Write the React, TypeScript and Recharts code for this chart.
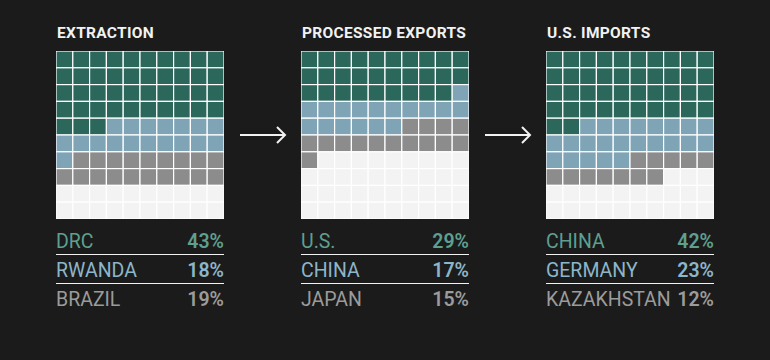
import React from "react";
import { ScatterChart, Scatter, XAxis, YAxis } from "recharts";

const titles = ["EXTRACTION", "PROCESSED EXPORTS", "U.S. IMPORTS"];
const extractionNames = ["DRC", "RWANDA", "BRAZIL"];
const extractionShares = [43, 18, 19];
const exportNames = ["U.S.", "CHINA", "JAPAN"];
const exportShares = [29, 17, 15];
const importNames = ["CHINA", "GERMANY", "KAZAKHSTAN"];
const importShares = [42, 23, 12];

const cellColors = ["#2c675b", "#7ea4b6", "#8c8c8c"];
const textColors = ["#5e9f90", "#8cb6c9", "#9b9b9b"];
const emptyColor = "#f3f3f3";

const SIZE = 168;
const CELL = SIZE / 10;

type Cell = { x: number; y: number; fill: string };

function buildCells(shares: number[]): Cell[] {
  const fills: string[] = [];
  shares.forEach((n, i) => {
    for (let k = 0; k < n; k++) fills.push(cellColors[i]);
  });
  const cells: Cell[] = [];
  for (let i = 0; i < 100; i++) {
    cells.push({
      x: (i % 10) + 0.5,
      y: Math.floor(i / 10) + 0.5,
      fill: fills[i] ?? emptyColor,
    });
  }
  return cells;
}

const Square = (props: any) => {
  const { cx, cy, payload } = props;
  return (
    <rect
      x={cx - CELL / 2}
      y={cy - CELL / 2}
      width={CELL}
      height={CELL}
      fill={payload.fill}
      stroke="#ffffff"
      strokeWidth={1.2}
    />
  );
};

const font = "Roboto, 'Noto Sans', sans-serif";

function Panel({ left, title, names, shares }: { left: number; title: string; names: string[]; shares: number[] }) {
  return (
    <div style={{ position: "absolute", left, top: 0, width: SIZE }}>
      <div
        style={{
          position: "absolute",
          top: 24,
          left: 1,
          fontFamily: font,
          fontWeight: 700,
          fontSize: 15.5,
          color: "#f2f2f2",
          whiteSpace: "nowrap",
          letterSpacing: 0.3,
        }}
      >
        {title}
      </div>
      <div style={{ position: "absolute", top: 51, left: 0 }}>
        <ScatterChart width={SIZE} height={SIZE} margin={{ top: 0, right: 0, bottom: 0, left: 0 }}>
          <XAxis type="number" dataKey="x" domain={[0, 10]} hide />
          <YAxis type="number" dataKey="y" domain={[0, 10]} reversed hide />
          <Scatter data={buildCells(shares)} shape={Square} isAnimationActive={false} />
        </ScatterChart>
      </div>
      {names.map((name, i) => (
        <div
          key={name}
          style={{
            position: "absolute",
            top: 228 + i * 29,
            left: 0,
            width: SIZE,
            height: 26,
            display: "flex",
            justifyContent: "space-between",
            alignItems: "center",
            fontFamily: font,
            fontSize: 19.5,
            color: textColors[i],
            borderBottom: i < 2 ? "1.5px solid #f2f2f2" : "none",
          }}
        >
          <span>{name}</span>
          <span style={{ fontWeight: 600 }}>{shares[i]}%</span>
        </div>
      ))}
    </div>
  );
}

function Arrow({ left }: { left: number }) {
  return (
    <svg style={{ position: "absolute", left, top: 124 }} width={50} height={22}>
      <line x1={1} y1={11} x2={46} y2={11} stroke="#f2f2f2" strokeWidth={2} />
      <polyline points="38,3 46,11 38,19" fill="none" stroke="#f2f2f2" strokeWidth={2} />
    </svg>
  );
}

export default function App() {
  return (
    <div style={{ position: "absolute", top: 0, left: 0, width: 770, height: 360, background: "#1b1b1b", overflow: "hidden" }}>
      <Panel left={56} title={titles[0]} names={extractionNames} shares={extractionShares} />
      <Arrow left={239} />
      <Panel left={301} title={titles[1]} names={exportNames} shares={exportShares} />
      <Arrow left={484} />
      <Panel left={546} title={titles[2]} names={importNames} shares={importShares} />
    </div>
  );
}
